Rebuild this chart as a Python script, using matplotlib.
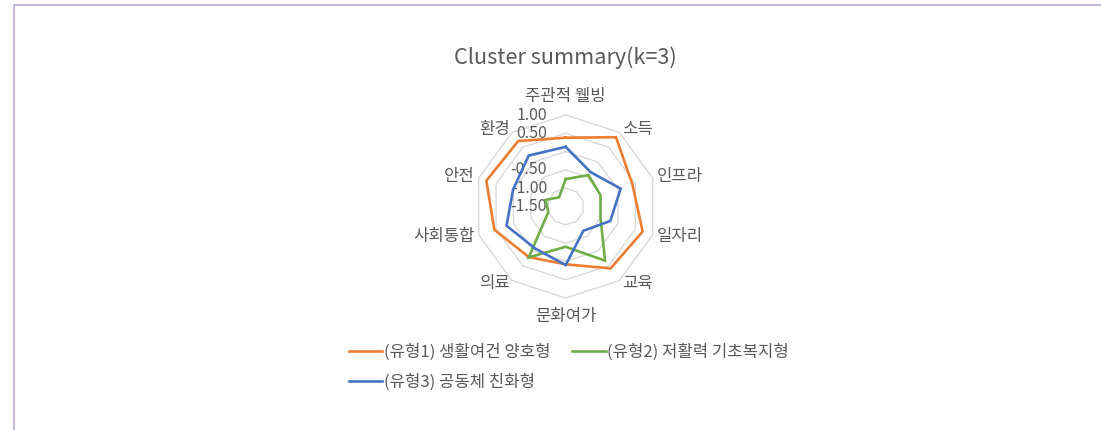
import numpy as np
import matplotlib
matplotlib.use("Agg")
import matplotlib.pyplot as plt
from matplotlib.transforms import offset_copy
from matplotlib.lines import Line2D
from matplotlib.patches import Rectangle

plt.rcParams['font.family'] = ['Noto Sans CJK KR', 'DejaVu Sans']

title = 'Cluster summary(k=3)'
categories = ['주관적 웰빙', '소득', '인프라', '일자리', '교육', '문화여가', '의료', '사회통합', '안전', '환경']
series_names = ['(유형1) 생활여건 양호형', '(유형2) 저활력 기초복지형', '(유형3) 공동체 친화형']
type1 = [0.38, 0.84, 0.42, 0.71, 0.59, 0.08, 0.21, 0.55, 0.78, 0.71]
type2 = [-0.75, -0.44, -0.50, -0.50, 0.33, -0.40, 0.22, -1.00, -0.92, -1.19]
type3 = [0.13, -0.34, 0.08, -0.22, -0.68, 0.10, -0.08, 0.20, 0.01, 0.22]
r_min, r_max = -1.5, 1.0
ring_levels = [-1.0, -0.5, 0.0, 0.5, 1.0]
tick_levels = [1.0, 0.5, -0.5, -1.0, -1.5]

colors = ['#ED7D31', '#70AD47', '#4472C4']
text_color = '#595959'
grid_color = '#D9D9D9'

W, H = 1101, 430
fig = plt.figure(figsize=(W / 100, H / 100), dpi=100)

# frame (partial border as in the reference crop)
fig.add_artist(Rectangle((13.5 / W, -0.2), 1.2, 1.2 - 4.5 / H, transform=fig.transFigure,
                         fill=False, edgecolor='#B4A2DA', lw=1.1))

cx, cy, R = 565.7, 206.5, 91.5
ax = fig.add_axes([(cx - R) / W, (H - cy - R) / H, 2 * R / W, 2 * R / H], projection='polar')
ax.set_theta_zero_location('N')
ax.set_theta_direction(-1)
ax.set_ylim(r_min, r_max)
ax.grid(False)
ax.spines['polar'].set_visible(False)
ax.set_xticks([])
ax.set_yticks([])
ax.patch.set_alpha(0)

n = len(categories)
angles = np.arange(n) * 2 * np.pi / n
closed = np.append(angles, angles[0])

for lev in ring_levels:
    ax.plot(closed, [lev] * (n + 1), color=grid_color, lw=1.0, zorder=1, clip_on=False)

tick_tr = offset_copy(ax.transData, fig=fig, x=-18.5, y=0, units='dots')
for lev in tick_levels:
    ax.text(0, lev, f'{lev:.2f}', transform=tick_tr, ha='right', va='center',
            fontsize=11.5, color=text_color, zorder=2)

for vals, c in zip([type1, type2, type3], colors):
    v = np.append(vals, vals[0])
    ax.plot(closed, v, color=c, lw=1.9, zorder=3, clip_on=False, solid_joinstyle='miter')

for ang, lab in zip(angles, categories):
    s, co = np.sin(ang), np.cos(ang)
    if abs(s) < 0.1:
        d = 19 if co > 0 else 18
        ha = 'center'
    else:
        d = 4
        ha = 'left' if s > 0 else 'right'
    tr = offset_copy(ax.transData, fig=fig, x=d * s, y=d * co, units='dots')
    ax.text(ang, r_max, lab, transform=tr, ha=ha, va='center', fontsize=12,
            color=text_color)

fig.text(cx / W, 1 - 58 / H, title, ha='center', va='center', fontsize=15.6, color=text_color)

handles = [Line2D([], [], color=c, lw=1.9) for c in colors]
order = [0, 2, 1]
leg = fig.legend([handles[i] for i in order], [series_names[i] for i in order],
                 ncol=2, loc='upper left', bbox_to_anchor=(349 / W, 1 - 344 / H),
                 frameon=False, fontsize=12, handlelength=2.0, handletextpad=0.1,
                 columnspacing=1.3, labelspacing=0.75, borderpad=0, borderaxespad=0)
for t in leg.get_texts():
    t.set_color(text_color)

fig.savefig('out.png', dpi=100)
